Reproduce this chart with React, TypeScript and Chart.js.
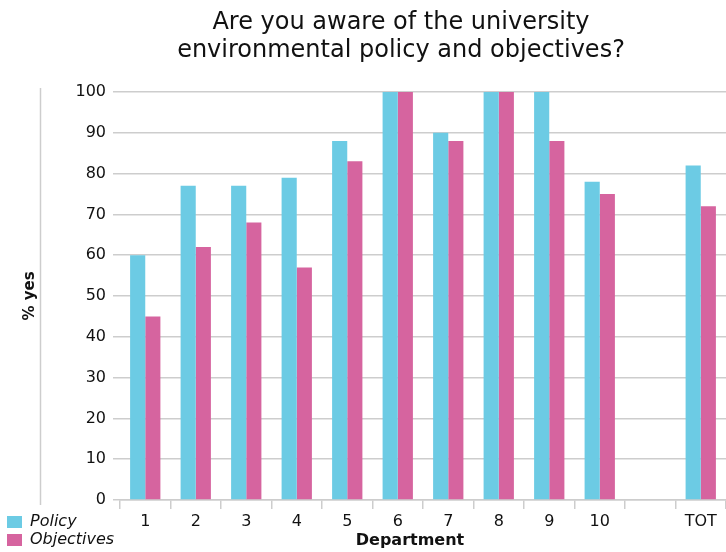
import React, { useEffect, useRef } from 'react';
import { Chart, registerables } from 'chart.js';

Chart.register(...registerables);

const categories = ['1', '2', '3', '4', '5', '6', '7', '8', '9', '10', '', 'TOT'];
const policyValues = [60, 77, 77, 79, 88, 100, 90, 100, 100, 78, null, 82];
const objectivesValues = [45, 62, 68, 57, 83, 100, 88, 100, 88, 75, null, 72];
const seriesNames = ['Policy', 'Objectives'];
const titleLines = ['Are you aware of the university', 'environmental policy and objectives?'];
const xAxisTitle = 'Department';
const yAxisTitle = '% yes';

const FONT = '"DejaVu Sans", sans-serif';
const TEXT = '#111111';
const GRID = '#cdcdcd';

const overlayPlugin = {
  id: 'overlay',
  afterDraw(chart: any) {
    const ctx = chart.ctx;
    const area = chart.chartArea;
    ctx.save();
    // left vertical rule
    ctx.strokeStyle = GRID;
    ctx.lineWidth = 1.5;
    ctx.beginPath();
    ctx.moveTo(40.5, area.top - 4);
    ctx.lineTo(40.5, area.bottom + 5);
    ctx.stroke();
    // title
    ctx.fillStyle = TEXT;
    ctx.textAlign = 'center';
    ctx.textBaseline = 'alphabetic';
    ctx.font = `24px ${FONT}`;
    titleLines.forEach((t, i) => ctx.fillText(t, 401, 29 + i * 28));
    // x axis title
    ctx.font = `bold 16px ${FONT}`;
    ctx.textBaseline = 'middle';
    ctx.fillText(xAxisTitle, 410, 541);
    // legend
    ctx.textAlign = 'left';
    chart.data.datasets.forEach((ds: any, i: number) => {
      ctx.fillStyle = ds.backgroundColor;
      ctx.fillRect(7, 516 + i * 18, 15, 12);
      ctx.fillStyle = TEXT;
      ctx.font = `italic 16px ${FONT}`;
      ctx.fillText(ds.label, 30, 522 + i * 18);
    });
    ctx.restore();
  },
};

export default function App() {
  const canvasRef = useRef<HTMLCanvasElement | null>(null);

  useEffect(() => {
    if (!canvasRef.current) return;
    const chart = new Chart(canvasRef.current, {
      type: 'bar',
      data: {
        labels: categories,
        datasets: [
          {
            label: seriesNames[0],
            data: policyValues,
            backgroundColor: '#6ccbe4',
            categoryPercentage: 0.6,
            barPercentage: 1.0,
          },
          {
            label: seriesNames[1],
            data: objectivesValues,
            backgroundColor: '#d6649f',
            categoryPercentage: 0.6,
            barPercentage: 1.0,
          },
        ],
      },
      options: {
        responsive: false,
        animation: false,
        layout: { padding: { top: 92, left: 0, right: 0, bottom: 0 } },
        plugins: {
          legend: { display: false },
          title: { display: false },
          tooltip: { enabled: false },
        },
        scales: {
          x: {
            offset: true,
            grid: {
              offset: true,
              drawOnChartArea: false,
              drawTicks: true,
              tickLength: 9,
              color: GRID,
              lineWidth: 1.5,
            },
            border: { display: true, color: GRID, width: 1.5 },
            ticks: {
              color: TEXT,
              font: { family: FONT, size: 16 },
              padding: 3,
              maxRotation: 0,
              autoSkip: false,
            },
            afterFit: (scale: any) => {
              scale.height = 52;
            },
          },
          y: {
            min: 0,
            max: 100,
            grid: {
              color: GRID,
              lineWidth: 1.5,
              drawTicks: true,
              tickLength: 7,
            },
            border: { display: false },
            ticks: {
              stepSize: 10,
              color: TEXT,
              font: { family: FONT, size: 16 },
              padding: 7,
            },
            title: {
              display: true,
              text: yAxisTitle,
              color: TEXT,
              font: { family: FONT, size: 15, weight: 'bold' },
              padding: { top: 21, bottom: 0 },
            },
            afterFit: (scale: any) => {
              scale.width = 120;
            },
          },
        },
      },
      plugins: [overlayPlugin],
    });
    return () => chart.destroy();
  }, []);

  return (
    <div style={{ position: 'fixed', left: 0, top: 0, width: 726, height: 552, background: '#fff' }}>
      <canvas ref={canvasRef} width={726} height={552} style={{ display: 'block' }} />
    </div>
  );
}
